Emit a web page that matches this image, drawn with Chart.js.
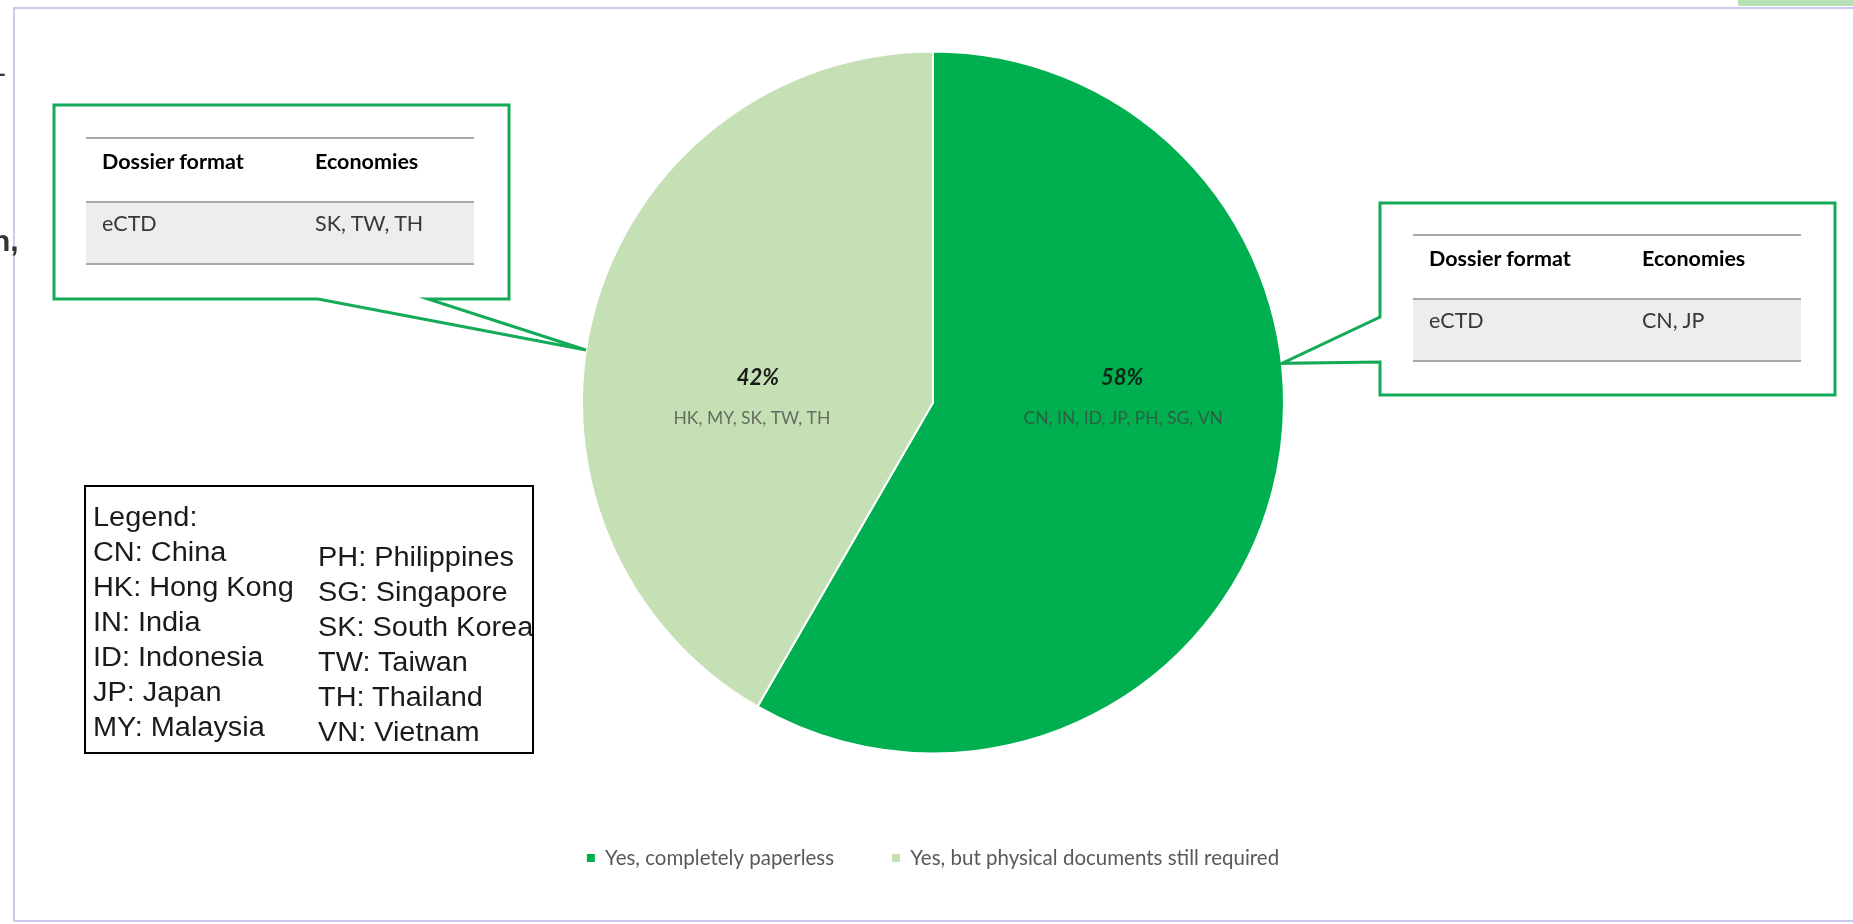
<!DOCTYPE html>
<html>
<head>
<meta charset="utf-8">
<script src="https://cdn.jsdelivr.net/npm/chart.js@4.4.0/dist/chart.umd.min.js"></script>
<style>
  html, body { margin:0; padding:0; width:1853px; height:924px; overflow:hidden; background:#fff; }
  #wrap { position:relative; width:1853px; height:924px; }
  #chart { position:absolute; left:0; top:0; }
  .frame { position:absolute; left:13px; top:7px; width:1900px; height:915px; border:2px solid #cbc8f2; box-sizing:border-box; pointer-events:none; }
  .topbar { position:absolute; left:1738px; top:0; width:115px; height:6px; background:#b5e1b4; }
  .edge { position:absolute; font-family:"Liberation Sans", Arial, sans-serif; font-size:30px; line-height:30px; color:#333; }
  .tbl { position:absolute; width:388px; font-family:Lato, "Open Sans", sans-serif; font-size:21.5px; color:#000; }
  .tbl .hdr { position:relative; height:64px; border-top:2px solid #a9a9a9; box-sizing:border-box; font-weight:bold; }
  .tbl .row { position:relative; height:64px; border-top:2px solid #a9a9a9; border-bottom:2px solid #a9a9a9; box-sizing:border-box; background:#ededed; color:#383838; }
  .tbl span { position:absolute; line-height:24px; white-space:nowrap; }
  .tbl .hdr span { top:10px; }
  .tbl .row span { top:8px; }
  .tbl .c1 { left:16px; }
  .tbl .c2 { left:229px; }
  #legbox { position:absolute; left:84px; top:485px; width:450px; height:269px; border:2px solid #000; box-sizing:border-box; overflow:hidden; font-family:"Liberation Sans", Arial, sans-serif; font-size:27px; color:#1a1a1a; }
  #legbox span { position:absolute; line-height:30px; white-space:nowrap; transform:scaleX(1.07); transform-origin:left center; }
</style>
</head>
<body>
<div id="wrap">
  <canvas id="chart" width="1853" height="924"></canvas>
  <div class="frame"></div>
  <div class="topbar"></div>
  <div class="edge" style="left:-4px;top:58px;">-</div>
  <div class="edge" style="left:-8px;top:226px;font-weight:bold;">n,</div>
  <div id="tblLeft" class="tbl" style="left:86px;top:137px;"></div>
  <div id="tblRight" class="tbl" style="left:1413px;top:234px;"></div>
  <div id="legbox"></div>
</div>
<script>
// ---------------- data ----------------
const categories = ['Yes, completely paperless', 'Yes, but physical documents still required'];
const economyCounts = [7, 5];
const economyLists = ['CN, IN, ID, JP, PH, SG, VN', 'HK, MY, SK, TW, TH'];
const sliceColors = ['#00b050', '#c5e0b4'];

const tableHeader = ['Dossier format', 'Economies'];
const tablePaperless = ['eCTD', 'CN, JP'];
const tablePhysical = ['eCTD', 'SK, TW, TH'];

const legendTitle = 'Legend:';
const legendColumn1 = ['CN: China', 'HK: Hong Kong', 'IN: India', 'ID: Indonesia', 'JP: Japan', 'MY: Malaysia'];
const legendColumn2 = ['PH: Philippines', 'SG: Singapore', 'SK: South Korea', 'TW: Taiwan', 'TH: Thailand', 'VN: Vietnam'];

// ---------------- html tables / legend box ----------------
function buildTable(el, header, row) {
  el.innerHTML = '<div class="hdr"><span class="c1"></span><span class="c2"></span></div>' +
                 '<div class="row"><span class="c1"></span><span class="c2"></span></div>';
  const s = el.querySelectorAll('span');
  s[0].textContent = header[0]; s[1].textContent = header[1];
  s[2].textContent = row[0]; s[3].textContent = row[1];
}
buildTable(document.getElementById('tblLeft'), tableHeader, tablePhysical);
buildTable(document.getElementById('tblRight'), tableHeader, tablePaperless);

(function buildLegendBox() {
  const box = document.getElementById('legbox');
  const add = (txt, x, cy) => {
    const s = document.createElement('span');
    s.textContent = txt;
    s.style.left = x + 'px';
    s.style.top = (cy - 487 - 15) + 'px';
    box.appendChild(s);
  };
  add(legendTitle, 7, 517);
  legendColumn1.forEach((t, i) => add(t, 7, 552 + 35 * i));
  legendColumn2.forEach((t, i) => add(t, 232, 557 + 35 * i));
})();

// ---------------- chart ----------------
const labelStyle = [
  { pct: [0.539, -0.070], list: [0.542, 0.044], pctColor: 'rgba(15,25,18,0.92)' },
  { pct: [-0.499, -0.070], list: [-0.516, 0.044], pctColor: '#1a1a1a' }
];

const sliceLabels = {
  id: 'sliceLabels',
  afterDatasetsDraw(chart) {
    const ctx = chart.ctx;
    const meta = chart.getDatasetMeta(0);
    const total = economyCounts.reduce((a, b) => a + b, 0);
    meta.data.forEach((arc, i) => {
      const r = arc.outerRadius, st = labelStyle[i];
      ctx.save();
      ctx.textAlign = 'center';
      ctx.textBaseline = 'middle';
      ctx.font = 'italic bold 22px Lato, "Open Sans", sans-serif';
      ctx.fillStyle = st.pctColor;
      ctx.fillText(Math.round(economyCounts[i] / total * 100) + '%', arc.x + st.pct[0] * r, arc.y + st.pct[1] * r);
      ctx.font = '17.5px Lato, "Open Sans", sans-serif';
      ctx.fillStyle = 'rgba(64,64,64,0.72)';
      ctx.fillText(economyLists[i], arc.x + st.list[0] * r, arc.y + st.list[1] * r);
      ctx.restore();
    });
  }
};

const callouts = {
  id: 'callouts',
  afterDatasetsDraw(chart) {
    const arc = chart.getDatasetMeta(0).data[0];
    const cx = arc.x, cy = arc.y, r = arc.outerRadius;
    const ctx = chart.ctx;
    const tip = (deg) => [cx + r * Math.cos(deg * Math.PI / 180), cy + r * Math.sin(deg * Math.PI / 180)];
    ctx.save();
    ctx.strokeStyle = '#14ab58';
    ctx.fillStyle = '#ffffff';
    ctx.lineWidth = 3;
    ctx.lineJoin = 'miter';
    // left callout (physical documents slice)
    let t = tip(188.6);
    ctx.beginPath();
    ctx.moveTo(54, 105); ctx.lineTo(509, 105); ctx.lineTo(509, 299); ctx.lineTo(428, 299);
    ctx.lineTo(t[0], t[1]); ctx.lineTo(318, 299); ctx.lineTo(54, 299); ctx.closePath();
    ctx.fill(); ctx.stroke();
    // right callout (paperless slice)
    t = tip(-6.4);
    ctx.beginPath();
    ctx.moveTo(1380, 203); ctx.lineTo(1835, 203); ctx.lineTo(1835, 395); ctx.lineTo(1380, 395);
    ctx.lineTo(1380, 362); ctx.lineTo(t[0], t[1]); ctx.lineTo(1380, 317); ctx.closePath();
    ctx.fill(); ctx.stroke();
    ctx.restore();
  }
};

new Chart(document.getElementById('chart'), {
  type: 'pie',
  data: {
    labels: categories,
    datasets: [{
      data: economyCounts,
      backgroundColor: sliceColors,
      borderColor: '#ffffff',
      borderWidth: 2
    }]
  },
  options: {
    responsive: false,
    animation: false,
    radius: 351,
    layout: { padding: { left: 13, right: 0, top: 15.25, bottom: 45.75 } },
    plugins: {
      tooltip: { enabled: false },
      legend: {
        position: 'bottom',
        labels: {
          font: { family: 'Lato', size: 20.5 },
          color: '#595959',
          boxWidth: 8,
          boxHeight: 8,
          padding: 58,
          generateLabels(chart) {
            const items = Chart.overrides.doughnut.plugins.legend.labels.generateLabels(chart);
            return items.map(it => Object.assign({}, it, { lineWidth: 0, strokeStyle: 'rgba(0,0,0,0)' }));
          }
        }
      }
    }
  },
  plugins: [callouts, sliceLabels]
});
</script>
</body>
</html>
